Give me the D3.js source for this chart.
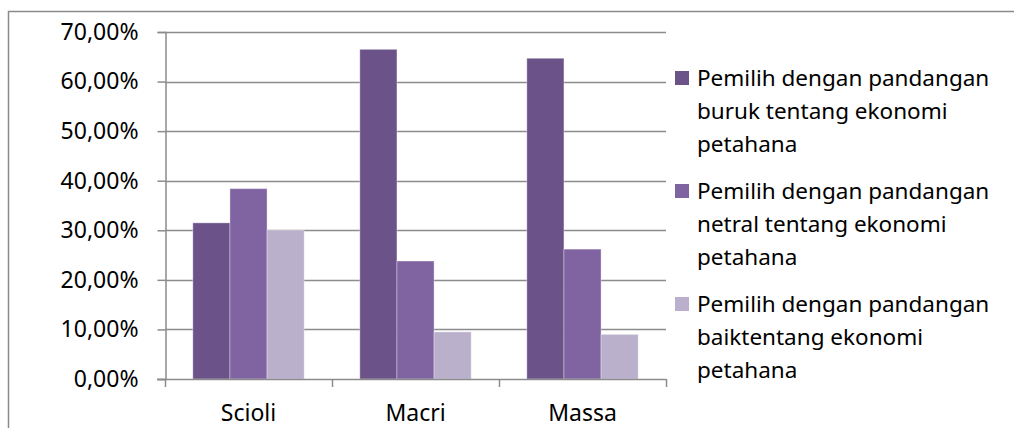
<!DOCTYPE html>
<html>
<head>
<meta charset="utf-8">
<script src="https://cdn.jsdelivr.net/npm/d3@7"></script>
<style>
  html, body { margin: 0; padding: 0; background: #fff; }
  svg text { font-family: "Noto Sans", "Open Sans", sans-serif; fill: #000; }
</style>
</head>
<body>
<svg id="chart" width="1014" height="428"></svg>
<script>
// Candidates and voter groups
const candidates = ["Scioli", "Macri", "Massa"];
const seriesNames = [
  ["Pemilih dengan pandangan", "buruk tentang ekonomi", "petahana"],
  ["Pemilih dengan pandangan", "netral tentang ekonomi", "petahana"],
  ["Pemilih dengan pandangan", "baiktentang ekonomi", "petahana"]
];
// Share of voters per candidate (fractions)
const buruk  = [0.315, 0.665, 0.647];
const netral = [0.384, 0.238, 0.262];
const baik   = [0.300, 0.095, 0.090];
const tickValues = [0, 0.1, 0.2, 0.3, 0.4, 0.5, 0.6, 0.7];
const colors = ["#6b5289", "#8064a2", "#bab0cb"];

const series = [buruk, netral, baik];
const svg = d3.select("#chart");
const gridColor = "#8c8c8c";

// Outer frame (top and left edges visible)
svg.append("path")
  .attr("d", "M8.5,428 L8.5,11.5 L1014,11.5")
  .attr("fill", "none").attr("stroke", "#8a8a8a").attr("stroke-width", 1.5);

const plot = { left: 165, right: 666, top: 32, bottom: 379 };

const y = d3.scaleLinear().domain([0, 0.7]).range([plot.bottom, plot.top]);
const x0 = d3.scaleBand().domain(candidates).range([plot.left, plot.right]).padding(0);
const x1 = d3.scaleBand().domain([0, 1, 2]).range([0, x0.bandwidth()])
  .paddingInner(0).paddingOuter(0.75);

const fmt = v => d3.format(".2f")(v * 100).replace(".", ",") + "%";

// Gridlines
svg.append("g").selectAll("line").data(tickValues.filter(d => d > 0)).join("line")
  .attr("x1", plot.left).attr("x2", plot.right)
  .attr("y1", d => Math.round(y(d)) + 0.5).attr("y2", d => Math.round(y(d)) + 0.5)
  .attr("stroke", gridColor).attr("stroke-width", 1.5);

// Bars
const groups = svg.append("g").selectAll("g").data(candidates).join("g")
  .attr("transform", d => `translate(${x0(d)},0)`);
groups.selectAll("rect")
  .data((c, i) => series.map((s, k) => ({ k, v: s[i] })))
  .join("rect")
  .attr("x", d => x1(d.k))
  .attr("width", x1.bandwidth())
  .attr("y", d => y(d.v))
  .attr("height", d => y(0) - y(d.v))
  .attr("fill", d => colors[d.k])
  .attr("stroke", "rgba(255,255,255,0.35)").attr("stroke-width", 1);

// Y axis
const yAxis = d3.axisLeft(y).tickValues(tickValues).tickFormat(fmt).tickSize(8).tickPadding(19);
const gy = svg.append("g").attr("transform", `translate(${plot.left + 0.5},0)`).call(yAxis);
gy.select(".domain").attr("stroke", gridColor).attr("stroke-width", 1.5);
gy.selectAll(".tick line").attr("stroke", gridColor).attr("stroke-width", 1.5);
gy.selectAll(".tick text").attr("font-size", 23).attr("font-family", "Noto Sans").attr("fill", "#000");

// X axis with boundary ticks between categories
const gx = svg.append("g");
gx.append("line").attr("x1", plot.left - 8).attr("x2", plot.right)
  .attr("y1", plot.bottom + 0.5).attr("y2", plot.bottom + 0.5)
  .attr("stroke", gridColor).attr("stroke-width", 1.5);
const bounds = candidates.map(c => x0(c)).concat([x0(candidates[candidates.length - 1]) + x0.bandwidth()]);
gx.selectAll("line.b").data(bounds).join("line").attr("class", "b")
  .attr("x1", d => Math.round(d) + 0.5).attr("x2", d => Math.round(d) + 0.5)
  .attr("y1", plot.bottom).attr("y2", plot.bottom + 8)
  .attr("stroke", gridColor).attr("stroke-width", 1.5);
gx.selectAll("text").data(candidates).join("text")
  .attr("x", d => x0(d) + x0.bandwidth() / 2)
  .attr("y", 421)
  .attr("text-anchor", "middle")
  .attr("font-size", 23)
  .text(d => d);

// Legend
const legendTop = [78, 191, 304];
const lineGap = 33;
const legend = svg.append("g");
seriesNames.forEach((lines, k) => {
  legend.append("rect")
    .attr("x", 675).attr("y", legendTop[k] - 7)
    .attr("width", 14).attr("height", 14)
    .attr("fill", colors[k]);
  const t = legend.append("text").attr("font-size", 22.5);
  lines.forEach((ln, j) => {
    t.append("tspan").attr("x", 697).attr("y", legendTop[k] + j * lineGap)
      .attr("dy", "0.35em").text(ln);
  });
});
</script>
</body>
</html>
